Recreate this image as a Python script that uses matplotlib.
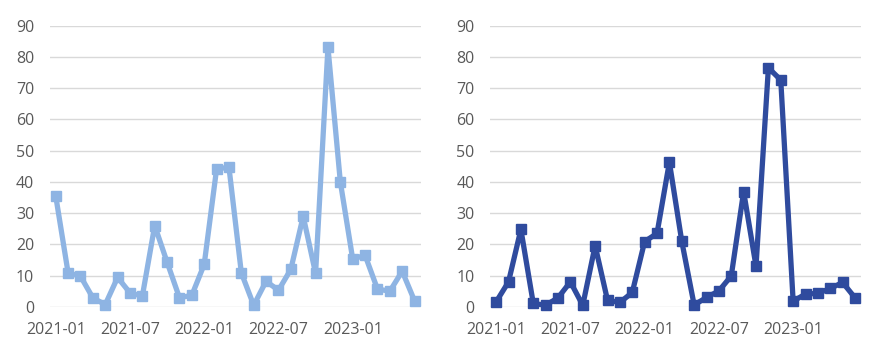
import matplotlib.pyplot as plt
import numpy as np

plt.rcParams['font.family'] = ['Open Sans', 'DejaVu Sans']

months = ['2021-01', '2021-02', '2021-03', '2021-04', '2021-05', '2021-06',
          '2021-07', '2021-08', '2021-09', '2021-10', '2021-11', '2021-12',
          '2022-01', '2022-02', '2022-03', '2022-04', '2022-05', '2022-06',
          '2022-07', '2022-08', '2022-09', '2022-10', '2022-11', '2022-12',
          '2023-01', '2023-02', '2023-03', '2023-04', '2023-05', '2023-06']

left_values = [35.5, 10.9, 9.8, 2.9, 0.7, 9.4, 4.5, 3.4, 26.0, 14.3,
               2.9, 3.7, 13.6, 44.1, 44.7, 10.9, 0.5, 8.2, 5.3, 12.0,
               29.0, 10.7, 83.1, 40.0, 15.3, 16.5, 5.7, 5.0, 11.4, 1.9]

right_values = [1.6, 8.0, 24.8, 1.1, 0.5, 2.9, 8.0, 0.5, 19.6, 2.1,
                1.4, 4.6, 20.9, 23.5, 46.3, 21.0, 0.6, 3.0, 5.1, 9.9,
                36.9, 13.0, 76.5, 72.6, 1.8, 4.1, 4.3, 5.9, 7.8, 2.9]

tick_labels = ['2021-01', '2021-07', '2022-01', '2022-07', '2023-01']

fig = plt.figure(figsize=(8.86, 3.61), dpi=100)
ax_left = fig.add_axes([0.0559, 0.150, 0.419, 0.779])
ax_right = fig.add_axes([0.553, 0.150, 0.419, 0.779])

x = np.arange(len(months))
tick_pos = [months.index(t) for t in tick_labels]

for ax, vals, color in [(ax_left, left_values, '#8EB4E3'),
                        (ax_right, right_values, '#2F4B9E')]:
    ax.plot(x, vals, color=color, linewidth=3.8, marker='s',
            markersize=7.5, clip_on=False, zorder=3)
    ax.set_xlim(-0.5, len(months) - 0.5)
    ax.set_ylim(0, 90)
    ax.set_yticks(range(0, 91, 10))
    ax.set_xticks(tick_pos)
    ax.set_xticklabels(tick_labels)
    ax.grid(axis='y', color='#D9D9D9', linewidth=1)
    ax.set_axisbelow(True)
    for s in ax.spines.values():
        s.set_visible(False)
    ax.tick_params(length=0, labelsize=11.5, colors='#595959')
    ax.tick_params(axis='y', pad=11)
    ax.tick_params(axis='x', pad=11)

fig.savefig('out.png', dpi=100)
